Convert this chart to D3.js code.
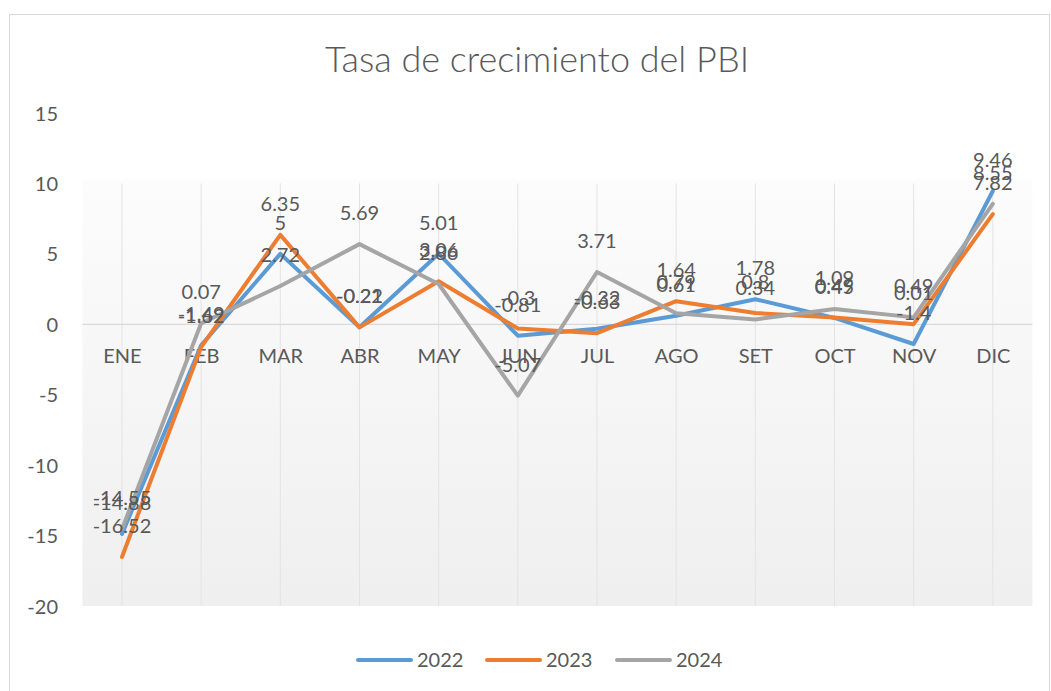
<!DOCTYPE html>
<html>
<head>
<meta charset="utf-8">
<script src="https://cdn.jsdelivr.net/npm/d3@7"></script>
<style>
  body { margin: 0; background: #fff; }
  svg text { font-family: Lato, "Open Sans", sans-serif; fill: #595959; }
</style>
</head>
<body>
<svg id="chart" width="1051" height="691"></svg>
<script>
// datos
let meses = ['ENE', 'FEB', 'MAR', 'ABR', 'MAY', 'JUN', 'JUL', 'AGO', 'SET', 'OCT', 'NOV', 'DIC'];
let serie2022 = [-14.88, -1.49, 5, -0.21, 5.01, -0.81, -0.32, 0.61, 1.78, 0.45, -1.4, 9.46];
let serie2023 = [-16.52, -1.62, 6.35, -0.22, 3.06, -0.3, -0.63, 1.64, 0.8, 0.49, 0.01, 7.82];
let serie2024 = [-14.55, 0.07, 2.72, 5.69, 2.86, -5.07, 3.71, 0.79, 0.34, 1.09, 0.49, 8.55];
let yTicks = [15, 10, 5, 0, -5, -10, -15, -20];
let anios = ['2022', '2023', '2024'];
let colores = ['#5B9BD5', '#ED7D31', '#A5A5A5'];

let series = [serie2022, serie2023, serie2024];

let svg = d3.select('#chart');

// borde del grafico
svg.append('rect')
    .attr('x', 9.5).attr('y', 14.5)
    .attr('width', 1040).attr('height', 690)
    .attr('fill', '#fff')
    .attr('stroke', '#d9d9d9');

// titulo
svg.append('text')
    .attr('x', 537).attr('y', 72)
    .attr('text-anchor', 'middle')
    .style('font-size', '36px')
    .style('font-weight', '300')
    .text('Tasa de crecimiento del PBI');

let x = d3.scalePoint().domain(meses).range([82.4, 1032.4]).padding(0.5);
let y = d3.scaleLinear().domain([-20, 15]).range([606, 113]);

// fondo del area de trazado
let defs = svg.append('defs');
let grad = defs.append('linearGradient')
    .attr('id', 'fondo')
    .attr('x1', 0).attr('y1', 0).attr('x2', 0).attr('y2', 1);
grad.append('stop').attr('offset', '0%').attr('stop-color', '#ffffff');
grad.append('stop').attr('offset', '13%').attr('stop-color', '#ffffff');
grad.append('stop').attr('offset', '14%').attr('stop-color', '#fcfcfc');
grad.append('stop').attr('offset', '100%').attr('stop-color', '#efefef');

svg.append('rect')
    .attr('x', 82.4).attr('y', y(15))
    .attr('width', 950).attr('height', y(-20) - y(15))
    .attr('fill', 'url(#fondo)');

// lineas verticales de division
svg.append('g')
    .selectAll('line')
    .data(meses)
    .enter()
    .append('line')
    .attr('x1', d => x(d)).attr('x2', d => x(d))
    .attr('y1', y(10)).attr('y2', y(-20))
    .attr('stroke', '#e3e3e3')
    .attr('stroke-width', 1);

// eje Y
let yAxis = d3.axisLeft(y).tickValues(yTicks).tickSize(0).tickPadding(0)
    .tickFormat(d => String(d));
let gy = svg.append('g')
    .attr('transform', 'translate(58,0)')
    .call(yAxis);
gy.select('.domain').remove();
gy.selectAll('text')
    .style('font-size', '20px')
    .attr('fill', '#595959')
    .attr('dy', '0.35em');

// eje X en cero
svg.append('line')
    .attr('x1', 82.4).attr('x2', 1032.4)
    .attr('y1', y(0)).attr('y2', y(0))
    .attr('stroke', '#d9d9d9')
    .attr('stroke-width', 1.3);

let xAxis = d3.axisBottom(x).tickSize(0).tickPadding(0);
let gx = svg.append('g')
    .attr('transform', 'translate(0,' + y(0) + ')')
    .call(xAxis);
gx.select('.domain').remove();
gx.selectAll('text')
    .style('font-size', '20px')
    .attr('fill', '#595959')
    .attr('y', 39)
    .attr('dy', '0');

// lineas
let linea = d3.line()
    .x((d, i) => x(meses[i]))
    .y(d => y(d));

series.forEach(function(s, k) {
    svg.append('path')
        .datum(s)
        .attr('d', linea)
        .attr('fill', 'none')
        .attr('stroke', colores[k])
        .attr('stroke-width', 4)
        .attr('stroke-linejoin', 'round')
        .attr('stroke-linecap', 'round');
});

// etiquetas de datos
series.forEach(function(s, k) {
    svg.append('g')
        .selectAll('text')
        .data(s)
        .enter()
        .append('text')
        .attr('x', (d, i) => x(meses[i]))
        .attr('y', d => y(d) - 24)
        .attr('text-anchor', 'middle')
        .style('font-size', '20px')
        .attr('fill', '#595959')
        .text(d => d);
});

// leyenda
let leyenda = svg.append('g');
let legX = [358, 487, 617];
anios.forEach(function(a, k) {
    leyenda.append('line')
        .attr('x1', legX[k]).attr('x2', legX[k] + 53)
        .attr('y1', 660).attr('y2', 660)
        .attr('stroke', colores[k])
        .attr('stroke-width', 4)
        .attr('stroke-linecap', 'round');
    leyenda.append('text')
        .attr('x', legX[k] + 59).attr('y', 667)
        .style('font-size', '20px')
        .text(a);
});
</script>
</body>
</html>
